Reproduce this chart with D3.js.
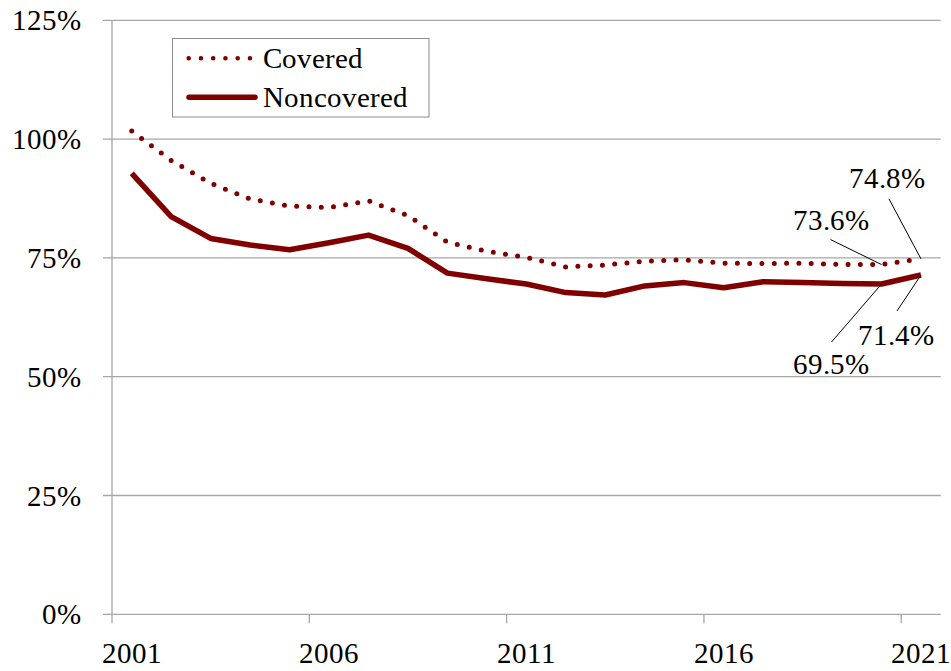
<!DOCTYPE html>
<html>
<head>
<meta charset="utf-8">
<script src="https://cdn.jsdelivr.net/npm/d3@7"></script>
<style>
@font-face { font-family: 'ChartSerif'; src: local('Liberation Serif'), local('LiberationSerif'), local('LiberationSerif-Regular'), local('Tinos'), local('Tinos-Regular'), local('Times New Roman'); }
</style>
</head>
<body style="margin:0">
<svg id="s" width="951" height="671"></svg>
<script>
const years = d3.range(2001, 2022);
const covered = [101.7, 95.5, 90.7, 87.4, 85.9, 85.6, 87.0, 83.9, 78.3, 76.4, 75.1, 73.1, 73.5, 74.3, 74.6, 73.9, 73.8, 73.9, 73.6, 73.6, 74.8];
const noncovered = [92.8, 83.7, 79.1, 77.7, 76.7, 78.2, 79.8, 77.0, 71.8, 70.6, 69.5, 67.7, 67.2, 69.1, 69.8, 68.7, 70.0, 69.8, 69.6, 69.5, 71.4];
const yTicks = [0, 25, 50, 75, 100, 125];
const xTickYears = [2001, 2006, 2011, 2016, 2021];
const seriesNames = ["Covered", "Noncovered"];
const annotations = [
  {series: "covered", year: 2021, text: "74.8%", tx: -72, ty: -71, lx: -32, ly: -60},
  {series: "covered", year: 2020, text: "73.6%", tx: -89, ty: -35, lx: -51, ly: -25},
  {series: "noncovered", year: 2021, text: "71.4%", tx: -63, ty: 70, lx: -24, ly: 36},
  {series: "noncovered", year: 2020, text: "69.5%", tx: -89, ty: 90, lx: -50, ly: 58}
];

(function(){
const color = "#800000";
const grid = "#a6a6a6";
const FONT = "'ChartSerif', 'Liberation Serif', monospace";
const FS = 29;
const svg = d3.select("#s");
const mLeft = 112, mRight = 940.7, mTop = 20.3, mBottom = 614.3;

const x = d3.scaleBand().domain(years).range([mLeft, mRight]).padding(0);
const y = d3.scaleLinear().domain([0, 125]).range([mBottom, mTop]);
const cx = d => x(d) + x.bandwidth() / 2;
const styleText = sel => sel.attr("font-size", FS).attr("fill", "#000")
  .attr("font-family", FONT);

svg.append("g").selectAll("line").data(yTicks).join("line")
  .attr("x1", mLeft - 9).attr("x2", mRight)
  .attr("y1", d => y(d)).attr("y2", d => y(d))
  .attr("stroke", grid).attr("stroke-width", 1.3);
svg.append("line").attr("x1", mLeft).attr("x2", mLeft).attr("y1", mTop).attr("y2", mBottom + 0.5)
  .attr("stroke", grid).attr("stroke-width", 1.3);
svg.append("g").selectAll("text").data(yTicks).join("text")
  .attr("x", 81).attr("y", d => y(d) + 10)
  .attr("text-anchor", "end").call(styleText)
  .text(d => d + "%");
svg.append("g").selectAll("line").data(xTickYears).join("line")
  .attr("x1", d => x(d)).attr("x2", d => x(d))
  .attr("y1", mBottom).attr("y2", mBottom + 9)
  .attr("stroke", grid).attr("stroke-width", 1.3);
svg.append("g").selectAll("text").data(xTickYears).join("text")
  .attr("x", d => cx(d)).attr("y", 663)
  .attr("text-anchor", "middle").call(styleText)
  .text(d => d);

const line = d3.line().x((d, i) => cx(years[i])).y(d => y(d));
svg.append("path").datum(noncovered).attr("d", line)
  .attr("fill", "none").attr("stroke", color).attr("stroke-width", 5.5)
  .attr("stroke-linejoin", "round");
svg.append("path").datum(covered).attr("d", line)
  .attr("fill", "none").attr("stroke", color).attr("stroke-width", 5)
  .attr("stroke-linecap", "round").attr("stroke-dasharray", "0 12.3");

const dataMap = {covered, noncovered};
annotations.forEach(a => {
  const px = cx(a.year), py = y(dataMap[a.series][years.indexOf(a.year)]);
  svg.append("line").attr("x1", px + a.lx).attr("y1", py + a.ly).attr("x2", px).attr("y2", py)
    .attr("stroke", "#000").attr("stroke-width", 1);
  svg.append("text").attr("x", px + a.tx).attr("y", py + a.ty)
    .call(styleText).text(a.text);
});

const lg = svg.append("g");
lg.append("rect").attr("x", 172.5).attr("y", 38.5).attr("width", 256.5).attr("height", 78.5)
  .attr("fill", "#fff").attr("stroke", "#8c8c8c").attr("stroke-width", 1);
lg.append("line").attr("x1", 188.7).attr("x2", 252).attr("y1", 58.3).attr("y2", 58.3)
  .attr("stroke", color).attr("stroke-width", 4.6).attr("stroke-linecap", "round")
  .attr("stroke-dasharray", "0 12.25");
lg.append("line").attr("x1", 189).attr("x2", 255).attr("y1", 97.3).attr("y2", 97.3)
  .attr("stroke", color).attr("stroke-width", 5.5).attr("stroke-linecap", "round");
lg.selectAll("text").data(seriesNames).join("text")
  .attr("x", 263).attr("y", (d, i) => i === 0 ? 67.5 : 107)
  .call(styleText).text(d => d);
})();
</script>
</body>
</html>
